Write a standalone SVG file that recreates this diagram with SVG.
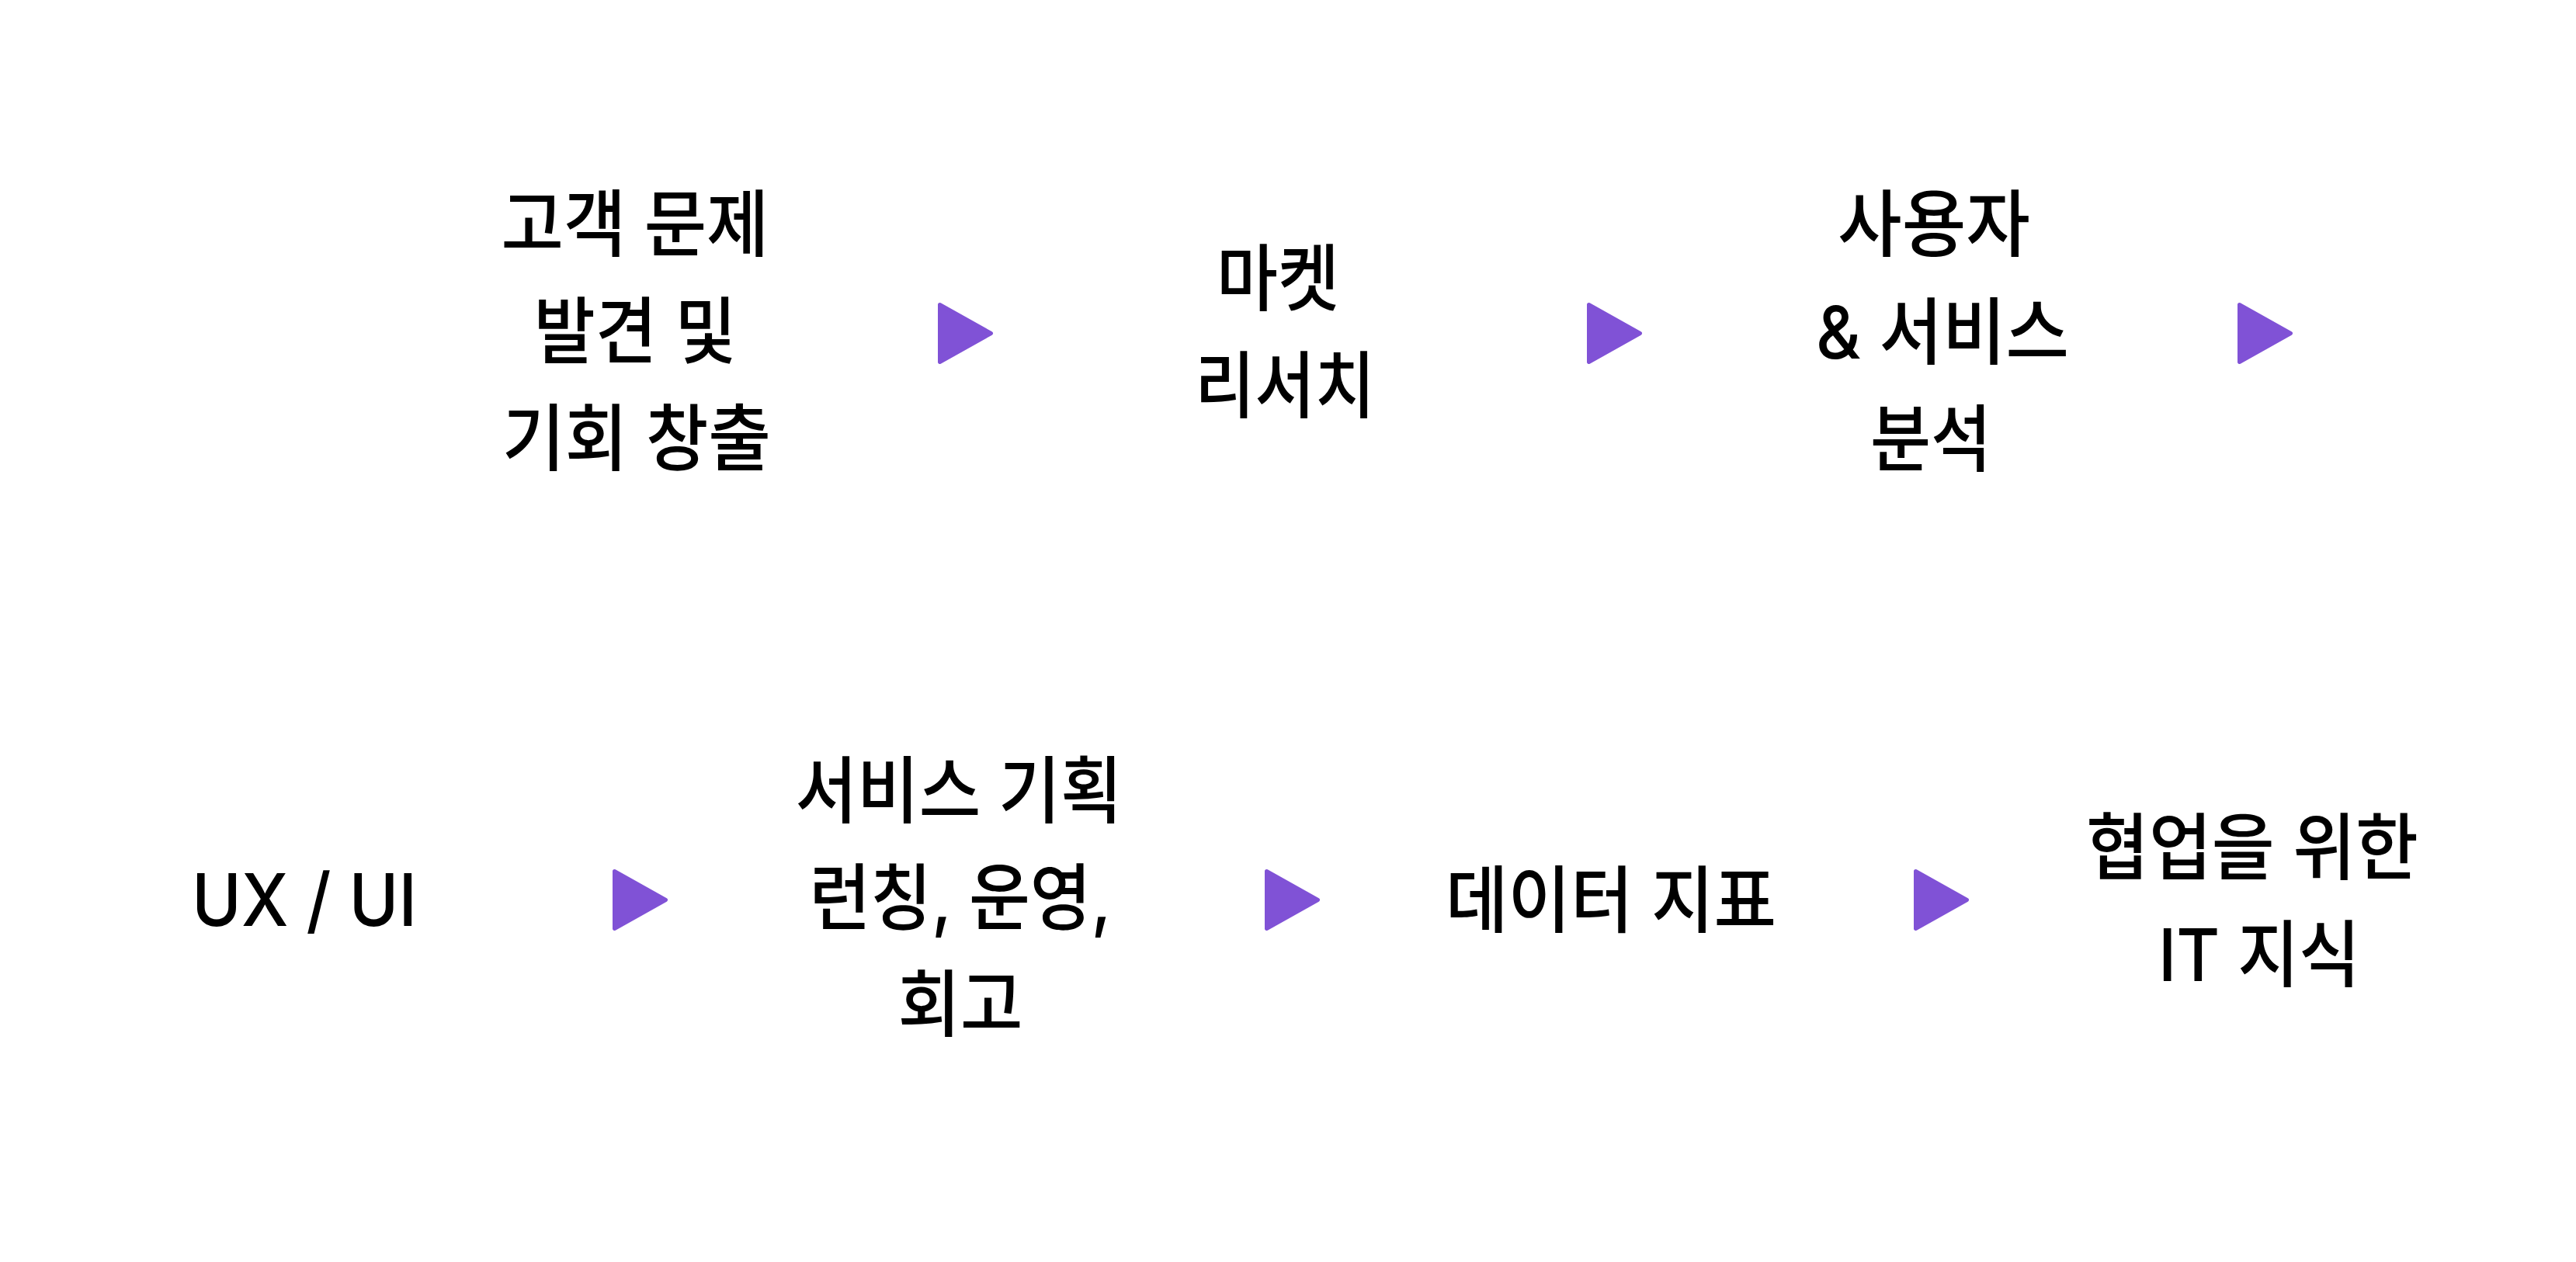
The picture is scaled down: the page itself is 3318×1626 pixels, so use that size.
<svg xmlns="http://www.w3.org/2000/svg" width="3318" height="1626" viewBox="0 0 3318 1626">
<style>
.t{font-family:"Inter","Noto Sans CJK KR","Noto Sans",sans-serif;font-size:94px;font-weight:500;fill:#000;text-anchor:middle}
.arr{fill:#8052d6;stroke:#8052d6;stroke-width:5;stroke-linejoin:round}
</style>
<rect width="3318" height="1626" fill="#fff"/>
<defs>
<polygon id="tri" points="2.5,2.5 68.5,39.5 2.5,76.5"/>
</defs>
<g id="connectors">
<use href="#tri" class="arr" x="1208" y="390"/>
<use href="#tri" class="arr" x="2044" y="390"/>
<use href="#tri" class="arr" x="2882" y="390"/>
<use href="#tri" class="arr" x="789" y="1120"/>
<use href="#tri" class="arr" x="1629" y="1120"/>
<use href="#tri" class="arr" x="2465" y="1120"/>
</g>
<g id="node-problem">
<text class="t" x="818" y="323" textLength="345" lengthAdjust="spacingAndGlyphs">고객 문제</text>
<text class="t" x="818" y="461" textLength="261" lengthAdjust="spacingAndGlyphs">발견 및</text>
<text class="t" x="820" y="599" textLength="346" lengthAdjust="spacingAndGlyphs">기회 창출</text>
</g>
<g id="node-market">
<text class="t" x="1646" y="393" textLength="158" lengthAdjust="spacingAndGlyphs">마켓</text>
<text class="t" x="1655" y="531" textLength="232" lengthAdjust="spacingAndGlyphs">리서치</text>
</g>
<g id="node-user">
<text class="t" x="2491" y="323" textLength="248" lengthAdjust="spacingAndGlyphs">사용자</text>
<text class="t" x="2502" y="462" textLength="326" lengthAdjust="spacingAndGlyphs">&amp; 서비스</text>
<text class="t" x="2487" y="600" textLength="156" lengthAdjust="spacingAndGlyphs">분석</text>
</g>
<g id="node-uxui">
<text class="t" x="392" y="1193" textLength="290" lengthAdjust="spacingAndGlyphs">UX / UI</text>
</g>
<g id="node-planning">
<text class="t" x="1235" y="1053" textLength="421" lengthAdjust="spacingAndGlyphs">서비스 기획</text>
<text class="t" x="1237" y="1191" textLength="389" lengthAdjust="spacingAndGlyphs">런칭, 운영,</text>
<text class="t" x="1237" y="1328" textLength="161" lengthAdjust="spacingAndGlyphs">회고</text>
</g>
<g id="node-data">
<text class="t" x="2075" y="1194" textLength="426" lengthAdjust="spacingAndGlyphs">데이터 지표</text>
</g>
<g id="node-it">
<text class="t" x="2901" y="1126" textLength="428" lengthAdjust="spacingAndGlyphs">협업을 위한</text>
<text class="t" x="2910" y="1264" textLength="260" lengthAdjust="spacingAndGlyphs">IT 지식</text>
</g>
</svg>
